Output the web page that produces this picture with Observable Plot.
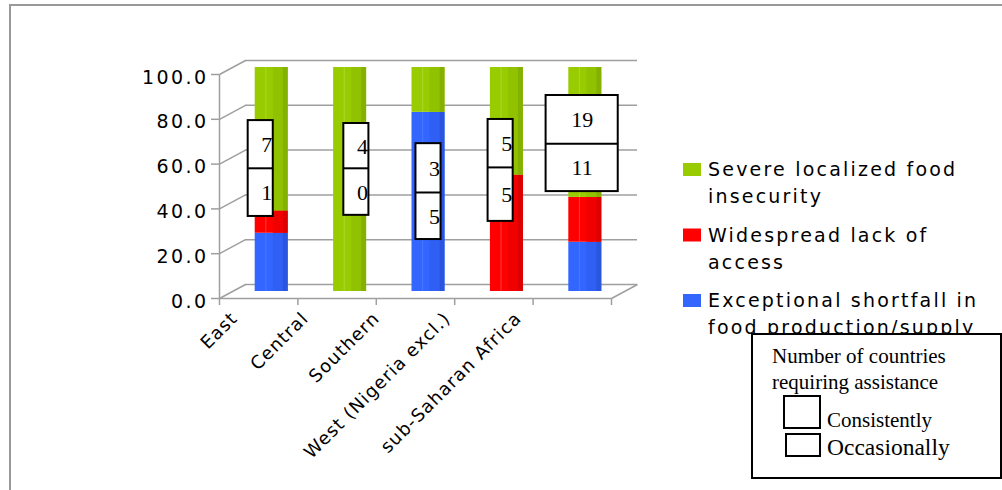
<!DOCTYPE html>
<html><head><meta charset="utf-8">
<script src="https://cdn.jsdelivr.net/npm/d3@7"></script>
<script src="https://cdn.jsdelivr.net/npm/@observablehq/plot@0.6"></script>
<style>
html,body{margin:0;padding:0;background:#fff;}
#wrap{position:relative;width:1002px;height:490px;overflow:hidden;background:#fff;}
#wrap > *{position:absolute;left:0;top:0;}
#frame{left:9px;top:4px;width:1100px;height:600px;border-top:2px solid #999;border-left:2px solid #999;}
</style></head><body><div id="wrap"><div id="frame"></div></div>
<script>
// ---- data ----
const regions = ["East", "Central", "Southern", "West (Nigeria excl.)", "sub-Saharan Africa"];
const seriesNames = ["Exceptional shortfall in food production/supply", "Widespread lack of access", "Severe localized food insecurity"];
const seriesColors = ["#3366FF", "#FF0000", "#99CC00"];
const shortfall = [26, 0, 80, 0, 22];
const lackOfAccess = [10, 0, 0, 52, 20];
const severeLocalized = [64, 100, 20, 48, 58];
const consistently = [7, 4, 3, 5, 19];
const occasionally = [1, 0, 5, 5, 11];
const yTicks = [0, 20, 40, 60, 80, 100];
const legendLines = [
  ["Severe localized food", "insecurity"],
  ["Widespread lack of", "access"],
  ["Exceptional shortfall in", "food production/supply"]
];
const countLegendTitle = ["Number of countries", "requiring assistance"];
const countLegendItems = ["Consistently", "Occasionally"];

// ---- annotation box layout (in y-scale units) ----
const boxTop = [76.3, 75, 66, 76.8, 87.5];
const boxMid = [55, 55, 44.2, 55.4, 66];
const boxBottom = [33.5, 34, 23.2, 31.3, 44.6];
const boxShift = [-0.14, 0.08, 0, -0.08, -0.04];
const boxHalf = [0.16, 0.16, 0.16, 0.16, 0.46];

// ---- layout / style ----
const W = 1002, H = 490;
const mL = 232, mR = 378, mT = 67, mB = 199;
const depthX = 13, depthY = 7;
const pxX = (W - mL - mR) / regions.length;
const pxY = (H - mT - mB) / 100;
const ox = depthX / pxX, oy = depthY / pxY;
const hw = 16.5 / pxX;
const gridColor = "#9f9f9f";
const midShade = ["#2F5FF3", "#F00000", "#91C200"];
const darkShade = ["#2A55DE", "#DC0000", "#84B000"];
const hiShade = ["#4A78FF", "#FF3A3A", "#A9D82C"];

const values = [shortfall, lackOfAccess, severeLocalized];
const segs = regions.flatMap((r, i) => {
  let acc = 0;
  return values.map((v, s) => { const y1 = acc; acc += v[i]; return {i, s, y1, y2: acc}; })
               .filter(d => d.y2 > d.y1);
});
const boxes = regions.map((r, i) => {
  const c = i + 0.5 + boxShift[i];
  return {i, x1: c - boxHalf[i], x2: c + boxHalf[i], c, top: boxTop[i], mid: boxMid[i], bottom: boxBottom[i],
          a: consistently[i], b: occasionally[i], wide: boxHalf[i] > 0.3};
});

const barMarks = seriesNames.flatMap((name, s) => {
  const d = segs.filter(g => g.s === s);
  const c = g => g.i + 0.5;
  return [
    Plot.rect(d, {x1: g => c(g) - hw, x2: g => c(g) + hw, y1: "y1", y2: "y2", fill: seriesColors[s]}),
    Plot.rect(d, {x1: g => c(g) - 0.075, x2: g => c(g) - 0.062, y1: "y1", y2: "y2", fill: hiShade[s]}),
    Plot.rect(d, {x1: g => c(g) + 0.02, x2: g => c(g) + 0.147, y1: "y1", y2: "y2", fill: midShade[s]}),
    Plot.rect(d, {x1: g => c(g) + 0.147, x2: g => c(g) + hw, y1: "y1", y2: "y2", fill: darkShade[s]})
  ];
});

const font = "DejaVu Sans, Verdana, sans-serif";
const serif = "Liberation Serif, Times New Roman, serif";

const main = Plot.plot({
  width: W, height: H,
  marginLeft: mL, marginRight: mR, marginTop: mT, marginBottom: mB,
  x: {type: "linear", domain: [0, regions.length], axis: null},
  y: {domain: [0, 100], axis: null},
  style: {background: "transparent", overflow: "visible"},
  marks: [
    Plot.ruleY(yTicks, {stroke: gridColor, strokeWidth: 1.5, dx: depthX, dy: -depthY}),
    Plot.link(yTicks, {x1: -ox, y1: d => d - oy, x2: ox, y2: d => d + oy, stroke: gridColor, strokeWidth: 1.5}),
    Plot.link([0], {x1: regions.length - ox, y1: -oy, x2: regions.length + ox, y2: oy, stroke: gridColor, strokeWidth: 1.5}),
    Plot.ruleY([0], {stroke: gridColor, strokeWidth: 1.5, dx: -depthX, dy: depthY}),
    Plot.ruleX([0], {y1: 0, y2: 100, stroke: gridColor, strokeWidth: 1.5, dx: -depthX, dy: depthY}),
    Plot.ruleY(yTicks, {x1: -8 / pxX, x2: 0, stroke: gridColor, strokeWidth: 1.5, dx: -depthX, dy: depthY}),
    Plot.ruleX(d3.range(regions.length + 1), {y1: 0, y2: -7 / pxY, stroke: gridColor, strokeWidth: 1.5, dx: -depthX, dy: depthY}),
    Plot.text(yTicks, {x: 0, y: d => d, text: d => d.toFixed(1), textAnchor: "end", dx: -24, dy: depthY + 3,
      fontSize: 19, fontFamily: font, fill: "#000"}),
    ...barMarks,
    Plot.rect(boxes, {x1: "x1", x2: "x2", y1: "bottom", y2: "top", fill: "white", stroke: "black", strokeWidth: 2}),
    Plot.link(boxes, {x1: "x1", x2: "x2", y1: "mid", y2: "mid", stroke: "black", strokeWidth: 2}),
    Plot.text(boxes.filter(b => !b.wide), {x: "x2", y: b => (b.top + b.mid) / 2, text: "a", textAnchor: "end", dx: -1, dy: 1,
      fontSize: 22, fontFamily: serif, fill: "#000"}),
    Plot.text(boxes.filter(b => !b.wide), {x: "x2", y: b => (b.mid + b.bottom) / 2, text: "b", textAnchor: "end", dx: -1, dy: 1,
      fontSize: 22, fontFamily: serif, fill: "#000"}),
    Plot.text(boxes.filter(b => b.wide), {x: "c", y: b => (b.top + b.mid) / 2, text: "a", textAnchor: "middle",
      fontSize: 22, fontFamily: serif, fill: "#000"}),
    Plot.text(boxes.filter(b => b.wide), {x: "c", y: b => (b.mid + b.bottom) / 2, text: "b", textAnchor: "middle",
      fontSize: 22, fontFamily: serif, fill: "#000"})
  ]
});

const labels = Plot.plot({
  width: W, height: H,
  marginLeft: 238, marginRight: W - 522, marginTop: 319, marginBottom: 60,
  x: {type: "point", domain: regions, padding: 0, axis: null},
  style: {background: "transparent", overflow: "visible"},
  marks: [
    Plot.text(regions, {x: d => d, frameAnchor: "top", rotate: -45, textAnchor: "end", lineAnchor: "bottom",
      fontSize: 18, fontFamily: font, fill: "#000"})
  ]
});

// letter spacing of the axis texts
const yLabelSet = new Set(yTicks.map(d => d.toFixed(1)));
main.querySelectorAll("text").forEach(t => {
  if (yLabelSet.has(t.textContent)) t.setAttribute("letter-spacing", "2.4");
});
labels.querySelectorAll("text").forEach(t => t.setAttribute("letter-spacing", "1.1"));

const wrap = document.getElementById("wrap");
wrap.appendChild(main);
wrap.appendChild(labels);

// legends
const lg = d3.create("svg").attr("width", W).attr("height", H)
  .style("position", "absolute").style("left", 0).style("top", 0);
const order = [2, 1, 0];
order.forEach((s, k) => {
  const base = 176 + k * 65.5;
  lg.append("rect").attr("x", 683).attr("y", base - 13).attr("width", 18).attr("height", 13).attr("fill", seriesColors[s]);
  legendLines[k].forEach((line, j) => {
    lg.append("text").attr("x", 708).attr("y", base + j * 27).attr("letter-spacing", 2.2)
      .attr("font-family", font).attr("font-size", 19).attr("fill", "#000").text(line);
  });
});
lg.append("rect").attr("x", 752).attr("y", 334).attr("width", 249).attr("height", 144)
  .attr("fill", "white").attr("stroke", "black").attr("stroke-width", 2);
countLegendTitle.forEach((t, j) => {
  lg.append("text").attr("x", 772).attr("y", 363 + j * 26).attr("font-family", serif).attr("font-size", 21).attr("fill", "#000").text(t);
});
lg.append("rect").attr("x", 784).attr("y", 396).attr("width", 36).attr("height", 32).attr("fill", "white").attr("stroke", "black").attr("stroke-width", 2);
lg.append("rect").attr("x", 786).attr("y", 434).attr("width", 34).attr("height", 22).attr("fill", "white").attr("stroke", "black").attr("stroke-width", 2);
lg.append("text").attr("x", 827).attr("y", 427).attr("font-family", serif).attr("font-size", 21).attr("fill", "#000").text(countLegendItems[0]);
lg.append("text").attr("x", 827).attr("y", 455).attr("font-family", serif).attr("font-size", 23.5).attr("fill", "#000").text(countLegendItems[1]);
wrap.appendChild(lg.node());
</script></body></html>
